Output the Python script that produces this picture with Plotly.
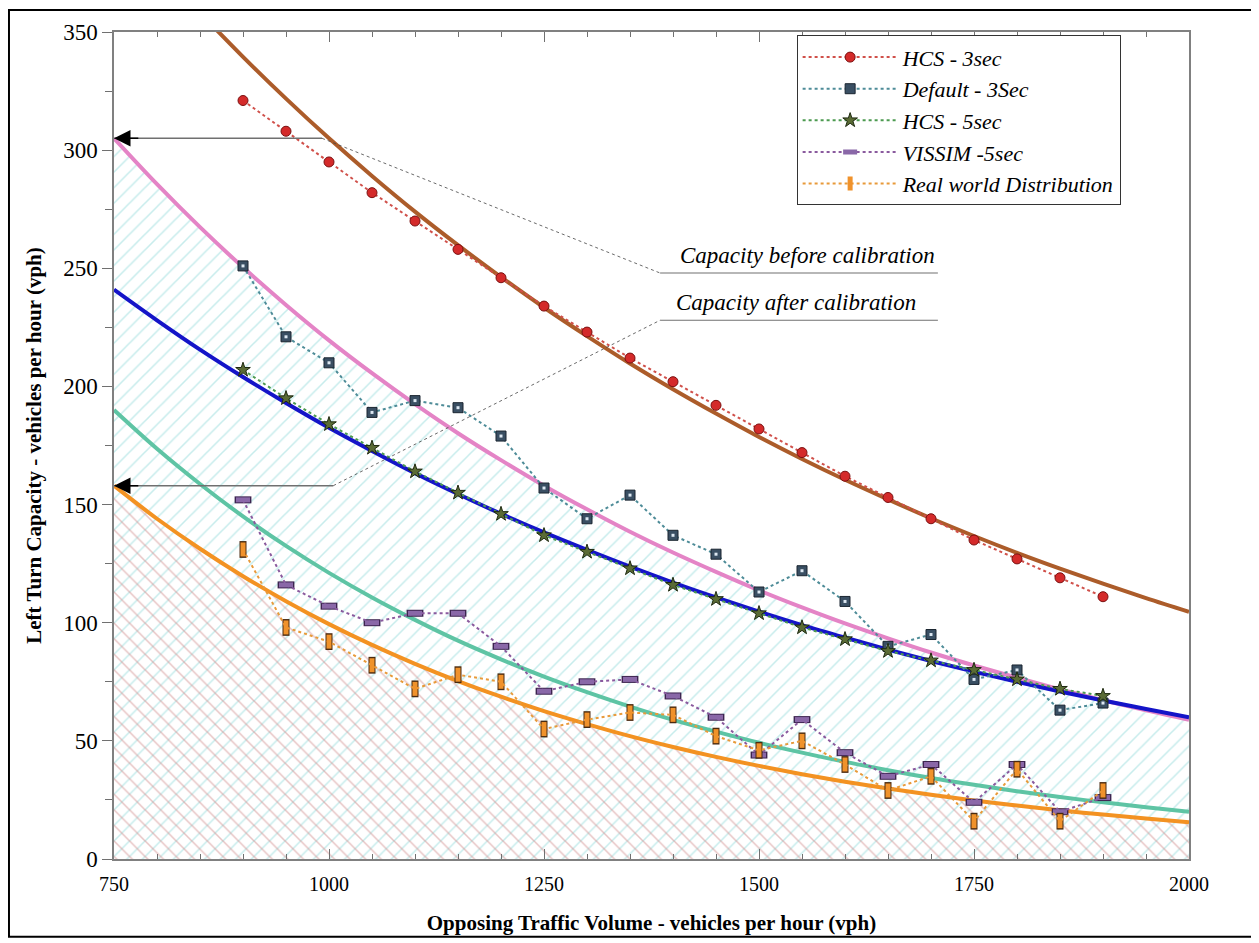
import plotly.graph_objects as go

# ---------------- data ----------------
opposing_x = [900, 950, 1000, 1050, 1100, 1150, 1200, 1250, 1300, 1350, 1400,
              1450, 1500, 1550, 1600, 1650, 1700, 1750, 1800, 1850, 1900]
hcs_3sec = [321, 308, 295, 282, 270, 258, 246, 234, 223, 212, 202,
            192, 182, 172, 162, 153, 144, 135, 127, 119, 111]
default_3sec = [251, 221, 210, 189, 194, 191, 179, 157, 144, 154, 137,
                129, 113, 122, 109, 90, 95, 76, 80, 63, 66]
hcs_5sec = [207, 195, 184, 174, 164, 155, 146, 137, 130, 123, 116,
            110, 104, 98, 93, 88, 84, 80, 76, 72, 69]
vissim_5sec = [152, 116, 107, 100, 104, 104, 90, 71, 75, 76, 69,
               60, 44, 59, 45, 35, 40, 24, 40, 20, 26]
real_world = [131, 98, 92, 82, 72, 78, 75, 55, 59, 62, 61,
              52, 46, 50, 40, 29, 35, 16, 38, 16, 29]

curve_x = [750, 800, 850, 900, 950, 1000, 1050, 1100, 1150, 1200, 1250, 1300, 1350,
           1400, 1450, 1500, 1550, 1600, 1650, 1700, 1750, 1800, 1850, 1900, 1950, 2000]
curve_brown = [398.6, 377.9, 358.2, 339.5, 321.8, 305.0, 289.1, 274.0, 259.8, 246.3, 233.4,
               221.3, 209.7, 198.8, 188.5, 178.6, 169.3, 160.5, 152.2, 144.2, 136.7,
               129.6, 122.9, 116.5, 110.4, 104.6]
curve_pink = [305.0, 285.6, 267.4, 250.4, 234.5, 219.5, 205.6, 192.5, 180.2, 168.8, 158.0,
              148.0, 138.5, 129.7, 121.5, 113.7, 106.5, 99.7, 93.4, 87.4, 81.9,
              76.7, 71.8, 67.2, 62.9, 58.9]
curve_blue = [241.0, 228.0, 215.6, 204.0, 193.0, 182.5, 172.7, 163.3, 154.5, 146.1, 138.2,
              130.8, 123.7, 117.0, 110.7, 104.7, 99.0, 93.7, 88.6, 83.8, 79.3,
              75.0, 70.9, 67.1, 63.5, 60.0]
curve_teal = [190.0, 173.6, 158.7, 145.0, 132.5, 121.1, 110.7, 101.2, 92.4, 84.5, 77.2,
              70.6, 64.5, 58.9, 53.9, 49.2, 45.0, 41.1, 37.6, 34.3, 31.4,
              28.7, 26.2, 24.0, 21.9, 20.0]
curve_orange = [158.0, 144.0, 131.3, 119.7, 109.1, 99.4, 90.6, 82.6, 75.3, 68.7, 62.6,
                57.1, 52.0, 47.4, 43.2, 39.4, 35.9, 32.7, 29.8, 27.2, 24.8,
                22.6, 20.6, 18.8, 17.1, 15.6]

x_ticks = [750, 1000, 1250, 1500, 1750, 2000]
y_ticks = [0, 50, 100, 150, 200, 250, 300, 350]

# annotation anchors (data units)
before_y, before_x_end = 305, 992
after_y, after_x_end = 158, 1005
label_x0, label_x1 = 1385, 1708
before_label_y, after_label_y = 248, 228

SERIF = "Liberation Serif"

fig = go.Figure()

# hatched fills
fig.add_trace(go.Scatter(
    x=curve_x, y=curve_pink, mode="lines", line=dict(width=0, shape="spline"),
    fill="tozeroy", fillcolor="rgba(0,0,0,0)",
    fillpattern=dict(shape="/", fgcolor="#8FDADA", bgcolor="rgba(0,0,0,0)",
                     size=11, solidity=0.14),
    showlegend=False, hoverinfo="skip"))
fig.add_trace(go.Scatter(
    x=curve_x, y=curve_orange, mode="lines", line=dict(width=0, shape="spline"),
    fill="tozeroy", fillcolor="rgba(0,0,0,0)",
    fillpattern=dict(shape="\\", fgcolor="#D08A8A", bgcolor="rgba(0,0,0,0)",
                     size=11, solidity=0.14),
    showlegend=False, hoverinfo="skip"))

# solid curves
for yv, col in [(curve_brown, "#AC5C2A"), (curve_pink, "#E484C6"),
                (curve_teal, "#5EC4A4"), (curve_orange, "#F39222"),
                (curve_blue, "#1414C8")]:
    fig.add_trace(go.Scatter(x=curve_x, y=yv, mode="lines",
                             line=dict(color=col, width=4, shape="spline"),
                             showlegend=False, hoverinfo="skip"))

# data series
fig.add_trace(go.Scatter(
    x=opposing_x, y=hcs_3sec, mode="lines+markers", name="HCS - 3sec",
    line=dict(color="#D0504A", width=2, dash="dot"),
    marker=dict(symbol="circle", size=10, color="#D42A2A",
                line=dict(color="#7A1010", width=1))))
fig.add_trace(go.Scatter(
    x=opposing_x, y=default_3sec, mode="lines+markers", name="Default - 3Sec",
    line=dict(color="#4E8C98", width=2, dash="dot"),
    marker=dict(symbol="square", size=10, color="#3A4F63",
                line=dict(color="#1A2530", width=1))))
fig.add_trace(go.Scatter(
    x=opposing_x, y=default_3sec, mode="markers", showlegend=False, hoverinfo="skip",
    marker=dict(symbol="square", size=3, color="#DDE8F2", line=dict(width=0))))
fig.add_trace(go.Scatter(
    x=opposing_x, y=hcs_5sec, mode="lines+markers", name="HCS - 5sec",
    line=dict(color="#4C9A50", width=2, dash="dot"),
    marker=dict(symbol="star", size=11, color="#5A6B35",
                line=dict(color="#1E2A10", width=1))))
fig.add_trace(go.Scatter(
    x=opposing_x, y=vissim_5sec, mode="markers", showlegend=False, hoverinfo="skip",
    marker=dict(symbol="line-ew", size=12, line=dict(color="#3D2550", width=7))))
fig.add_trace(go.Scatter(
    x=opposing_x, y=vissim_5sec, mode="lines+markers", name="VISSIM -5sec",
    line=dict(color="#8A5A9E", width=2, dash="dot"),
    marker=dict(symbol="line-ew", size=10, line=dict(color="#8A68A8", width=5))))
fig.add_trace(go.Scatter(
    x=opposing_x, y=real_world, mode="markers", showlegend=False, hoverinfo="skip",
    marker=dict(symbol="line-ns", size=12, line=dict(color="#4A2A10", width=7))))
fig.add_trace(go.Scatter(
    x=opposing_x, y=real_world, mode="lines+markers", name="Real world Distribution",
    line=dict(color="#E89A3A", width=2, dash="dot"),
    marker=dict(symbol="line-ns", size=10, line=dict(color="#F0922B", width=5))))

shapes = [
    # arrow shafts
    dict(type="line", xref="x", yref="y", x0=750, x1=before_x_end, y0=before_y, y1=before_y,
         line=dict(color="#707070", width=1.5)),
    dict(type="line", xref="x", yref="y", x0=750, x1=after_x_end, y0=after_y, y1=after_y,
         line=dict(color="#707070", width=1.5)),
    # connectors
    dict(type="line", xref="x", yref="y", x0=before_x_end, x1=label_x0,
         y0=before_y, y1=before_label_y, line=dict(color="#444444", width=0.8, dash="dot")),
    dict(type="line", xref="x", yref="y", x0=after_x_end, x1=label_x0,
         y0=after_y, y1=after_label_y, line=dict(color="#444444", width=0.8, dash="dot")),
    # underlines
    dict(type="line", xref="x", yref="y", x0=label_x0, x1=label_x1,
         y0=before_label_y, y1=before_label_y, line=dict(color="#707070", width=1.2)),
    dict(type="line", xref="x", yref="y", x0=label_x0, x1=label_x1,
         y0=after_label_y, y1=after_label_y, line=dict(color="#707070", width=1.2)),
    # outer frame
    dict(type="rect", xref="paper", yref="paper", x0=-0.0977, x1=1.0633, y0=-0.0939, y1=1.0265,
         line=dict(color="black", width=2), fillcolor="rgba(0,0,0,0)", layer="below"),
]

annotations = [
    dict(x=750, y=before_y, ax=780, ay=before_y, xref="x", yref="y", axref="x", ayref="y",
         text="", showarrow=True, arrowhead=2, arrowsize=2.2, arrowwidth=1.5,
         arrowcolor="black"),
    dict(x=750, y=after_y, ax=780, ay=after_y, xref="x", yref="y", axref="x", ayref="y",
         text="", showarrow=True, arrowhead=2, arrowsize=2.2, arrowwidth=1.5,
         arrowcolor="black"),
    dict(x=(label_x0 + label_x1) / 2 + 10, y=before_label_y, xref="x", yref="y",
         text="Capacity before calibration", showarrow=False, yanchor="bottom", yshift=3,
         font=dict(family=SERIF, size=23, style="italic", color="black")),
    dict(x=(label_x0 + label_x1) / 2 - 3, y=after_label_y, xref="x", yref="y",
         text="Capacity after calibration", showarrow=False, yanchor="bottom", yshift=3,
         font=dict(family=SERIF, size=23, style="italic", color="black")),
]

fig.update_layout(
    width=1251, height=935,
    margin=dict(l=106, r=70, t=23, b=81),
    paper_bgcolor="white", plot_bgcolor="white",
    shapes=shapes, annotations=annotations,
    legend=dict(x=0.635, y=0.996, xanchor="left", yanchor="top",
                bgcolor="white", bordercolor="#333333", borderwidth=1,
                font=dict(family=SERIF, size=22, style="italic", color="black"),
                itemwidth=95, tracegroupgap=0),
    xaxis=dict(range=[750, 2000], tickvals=x_ticks, ticktext=[str(v) for v in x_ticks],
               ticks="inside", ticklen=10, tickcolor="#707070", tickwidth=1.2,
               showline=True, linecolor="#808080", linewidth=1.5, mirror="ticks",
               showgrid=False, zeroline=False, ticklabelstandoff=6,
               minor=dict(dtick=50, ticks="inside", ticklen=5, tickcolor="#707070",
                          showgrid=False),
               tickfont=dict(family=SERIF, size=20, color="black"),
               title=dict(text="Opposing Traffic Volume - vehicles per hour (vph)",
                          font=dict(family=SERIF, size=21, weight="bold", color="black"),
                          standoff=22)),
    yaxis=dict(range=[0, 350], tickvals=y_ticks, ticktext=[str(v) for v in y_ticks],
               ticks="outside", ticklen=10, tickcolor="#707070", tickwidth=1.2,
               showline=True, linecolor="#808080", linewidth=1.5, mirror=True,
               showgrid=False, zeroline=False,
               minor=dict(dtick=25, ticks="outside", ticklen=7, tickcolor="#707070",
                          showgrid=False),
               tickfont=dict(family=SERIF, size=23, color="black"),
               title=dict(text="Left Turn Capacity - vehicles per hour (vph)",
                          font=dict(family=SERIF, size=21, weight="bold", color="black"),
                          standoff=16)),
)

fig.write_html("out.html")
